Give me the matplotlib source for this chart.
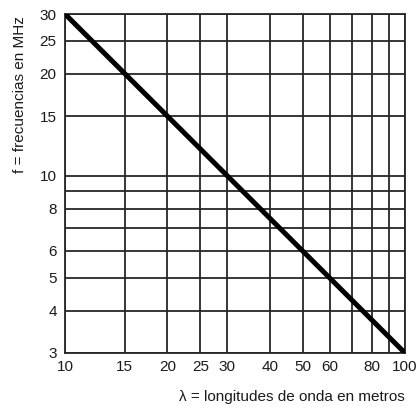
import matplotlib
matplotlib.use("Agg")
import matplotlib.pyplot as plt
from matplotlib.ticker import FixedLocator, FixedFormatter, NullLocator

plt.rcParams['font.family'] = ['Liberation Sans', 'DejaVu Sans']

# Data: wavelength (m) vs frequency (MHz)
wavelength_m = [10, 15, 20, 30, 50, 100]
frequency_mhz = [30, 20, 15, 10, 6, 3]

x_grid = [10, 15, 20, 25, 30, 40, 50, 60, 70, 80, 90, 100]
x_labels = ['10', '15', '20', '25', '30', '40', '50', '60', '', '80', '', '100']
y_grid = [3, 4, 5, 6, 7, 8, 9, 10, 15, 20, 25, 30]
y_labels = ['3', '4', '5', '6', '', '8', '', '10', '15', '20', '25', '30']

fig = plt.figure(figsize=(4.19, 4.11), dpi=100)
ax = fig.add_axes([65/419, 1 - 353/411, (405-65)/419, (353-14)/411])

ax.set_xscale('log')
ax.set_yscale('log')
ax.set_xlim(10, 100)
ax.set_ylim(3, 30)

ax.plot(wavelength_m, frequency_mhz, color='black', linewidth=3.6,
        solid_capstyle='butt', zorder=3)

ax.xaxis.set_major_locator(FixedLocator(x_grid))
ax.xaxis.set_major_formatter(FixedFormatter(x_labels))
ax.xaxis.set_minor_locator(NullLocator())
ax.yaxis.set_major_locator(FixedLocator(y_grid))
ax.yaxis.set_major_formatter(FixedFormatter(y_labels))
ax.yaxis.set_minor_locator(NullLocator())

ax.grid(True, which='major', color='#262626', linewidth=1.3)
for s in ax.spines.values():
    s.set_color('#262626')
    s.set_linewidth(1.3)

ax.tick_params(axis='both', length=0, labelsize=11, colors='#1a1a1a')
ax.tick_params(axis='x', pad=5)
ax.tick_params(axis='y', pad=6)

fig.text(20/419, 1 - 95/411, 'f = frecuencias en MHz', rotation=90,
         ha='center', va='center', fontsize=11, color='#1a1a1a')
fig.text(405/419, 1 - 397/411, 'λ = longitudes de onda en metros',
         ha='right', va='center', fontsize=11, color='#1a1a1a')

fig.savefig('out.png', dpi=100)
